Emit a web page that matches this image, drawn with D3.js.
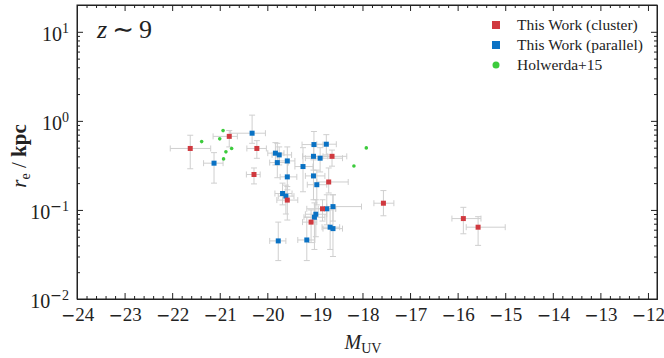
<!DOCTYPE html>
<html>
<head>
<meta charset="utf-8">
<script src="https://cdn.jsdelivr.net/npm/d3@7"></script>
<style>
  body { margin: 0; background: #fff; }
  text { font-family: "Liberation Serif", "DejaVu Serif", serif; fill: #222; }
</style>
</head>
<body>
<div id="vis"></div>
<script>
// data: [M_UV, M_lo, M_hi, r_e, r_lo, r_hi]
let clusterPts = [
    [-21.62, -22.04, -21.19, 0.49, 0.29, 0.69],
    [-20.80, -21.14, -20.63, 0.67, 0.51, 0.78],
    [-20.22, -20.43, -20.02, 0.49, 0.38, 0.60],
    [-20.28, -20.44, -20.15, 0.25, 0.196, 0.296],
    [-18.64, -18.83, -18.33, 0.40, 0.31, 0.47],
    [-18.71, -18.96, -18.30, 0.206, 0.155, 0.296],
    [-19.58, -19.80, -19.36, 0.129, 0.077, 0.183],
    [-18.84, -19.17, -18.56, 0.103, 0.075, 0.13],
    [-19.08, -19.26, -18.96, 0.073, 0.043, 0.10],
    [-17.56, -17.76, -17.34, 0.119, 0.086, 0.165],
    [-15.88, -16.12, -15.51, 0.080, 0.054, 0.107],
    [-15.57, -15.82, -15.00, 0.064, 0.040, 0.084]
]

let parallelPts = [
    [-20.32, -20.77, -20.04, 0.727, 0.56, 1.16],
    [-21.12, -21.34, -20.93, 0.335, 0.20, 0.44],
    [-19.83, -19.99, -19.65, 0.434, 0.32, 0.57],
    [-19.75, -19.90, -19.49, 0.415, 0.32, 0.51],
    [-19.79, -19.95, -19.56, 0.34, 0.23, 0.56],
    [-19.58, -19.75, -19.42, 0.355, 0.237, 0.51],
    [-19.02, -19.27, -18.83, 0.542, 0.40, 0.76],
    [-18.76, -18.96, -18.55, 0.547, 0.415, 0.70],
    [-19.03, -19.26, -18.73, 0.40, 0.28, 0.537],
    [-18.89, -19.20, -18.42, 0.381, 0.267, 0.50],
    [-19.25, -19.42, -19.04, 0.307, 0.16, 0.50],
    [-19.03, -19.20, -18.79, 0.241, 0.13, 0.365],
    [-19.58, -19.73, -19.38, 0.235, 0.168, 0.337],
    [-18.96, -19.16, -18.75, 0.192, 0.114, 0.28],
    [-19.68, -19.84, -19.48, 0.153, 0.114, 0.20],
    [-19.61, -19.77, -19.44, 0.143, 0.09, 0.19],
    [-18.75, -18.93, -18.57, 0.103, 0.068, 0.148],
    [-18.62, -18.75, -18.02, 0.109, 0.075, 0.148],
    [-18.98, -19.20, -18.75, 0.0895, 0.05, 0.13],
    [-19.01, -19.23, -18.79, 0.0828, 0.036, 0.12],
    [-18.68, -18.85, -18.48, 0.064, 0.036, 0.10],
    [-18.62, -18.83, -18.42, 0.0617, 0.030, 0.148],
    [-19.77, -19.95, -19.61, 0.0449, 0.027, 0.073],
    [-19.17, -19.36, -19.00, 0.046, 0.027, 0.083]
]

// Holwerda+15: [M_UV, r_e]
let holwerdaPts = [
    [-20.93, 0.778], [-21.38, 0.585], [-21.00, 0.628], [-20.75, 0.489],
    [-20.87, 0.449], [-20.92, 0.374], [-17.92, 0.497], [-18.18, 0.312]
]

let xTicks = d3.range(-24, -11, 1)
let yTicks = [0.01, 0.1, 1, 10]
let legendLabels = ["This Work (cluster)", "This Work (parallel)", "Holwerda+15"]

let red = "#d0393f"
let blue = "#0a72c4"
let green = "#3ccb3c"
let errColor = "#cfcfcf"

let svgWidth = 664
let svgHeight = 358
let margin = {left: 77, right: 7, top: 5, bottom: 59}
let width = svgWidth - margin.left - margin.right
let height = svgHeight - margin.top - margin.bottom

let svg = d3.select('#vis')
    .append('svg')
    .attr('width', svgWidth)
    .attr('height', svgHeight)
    .append('g')
    .attr('transform', `translate(${margin.left},${margin.top})`)

// scales
let xScale = d3.scaleLinear().domain([-24, -11.81]).range([0, width])
let yScale = d3.scaleLog().domain([0.01, 20]).range([height, 0])

// minor ticks
let xMinor = d3.range(0, 61).filter(i => i % 5 !== 0).map(i => -24 + i * 0.2)
let yMinor = []
;[-2, -1, 0, 1].forEach(e => {
    for (let k = 2; k <= 9; k++) {
        let v = k * Math.pow(10, e)
        if (v <= 20) yMinor.push(v)
    }
})

// write a number with a wide minus sign, like the TeX one
function writeNum(sel, n, minusSize) {
    if (n < 0) {
        let m = sel.append('tspan').attr('font-family', 'DejaVu Sans').text('\u2212')
        if (minusSize) m.attr('font-size', minusSize)
    }
    sel.append('tspan').text(Math.abs(n))
}

// bottom axis with labels
let xAxis = svg.append('g')
    .attr('transform', `translate(0,${height})`)
    .call(d3.axisBottom(xScale).tickValues(xTicks).tickSize(-6).tickSizeOuter(0).tickPadding(7).tickFormat(''))
xAxis.selectAll('.tick text').each(function(d) {
    let t = d3.select(this).attr('font-size', '19px').attr('dy', '0.78em')
    writeNum(t, d, '17px')
})

svg.append('g')
    .attr('transform', `translate(0,${height})`)
    .call(d3.axisBottom(xScale).tickValues(xMinor).tickSize(-3).tickSizeOuter(0).tickFormat(''))

svg.append('g')
    .call(d3.axisTop(xScale).tickValues(xTicks).tickSize(-6).tickSizeOuter(0).tickFormat(''))
svg.append('g')
    .call(d3.axisTop(xScale).tickValues(xMinor).tickSize(-3).tickSizeOuter(0).tickFormat(''))

// left axis with 10^n labels
let yAxis = svg.append('g')
    .call(d3.axisLeft(yScale).tickValues(yTicks).tickSize(-6).tickSizeOuter(0).tickPadding(8).tickFormat(''))
yAxis.selectAll('.tick text').each(function(d) {
    let t = d3.select(this).attr('font-size', '20px').attr('dy', '0.42em')
    let ex = Math.round(Math.log10(d))
    t.append('tspan').text('10')
    let sup = t.append('tspan').attr('dy', '-0.55em').attr('font-size', '14px')
    writeNum(sup, ex)
})

svg.append('g')
    .call(d3.axisLeft(yScale).tickValues(yMinor).tickSize(-3).tickSizeOuter(0).tickFormat(''))
svg.append('g')
    .attr('transform', `translate(${width},0)`)
    .call(d3.axisRight(yScale).tickValues(yTicks).tickSize(-6).tickSizeOuter(0).tickFormat(''))
svg.append('g')
    .attr('transform', `translate(${width},0)`)
    .call(d3.axisRight(yScale).tickValues(yMinor).tickSize(-3).tickSizeOuter(0).tickFormat(''))

svg.selectAll('.domain').attr('stroke', '#222')
svg.selectAll('.tick line').attr('stroke', '#222')

// frame
svg.append('rect')
    .attr('width', width).attr('height', height)
    .attr('fill', 'none').attr('stroke', '#222').attr('stroke-width', 1)

// error bars
let errData = clusterPts.concat(parallelPts)
let cap = 3
let errG = svg.append('g').attr('stroke', errColor).attr('stroke-width', 1)

errData.forEach(d => {
    let cx = xScale(d[0]), cy = yScale(d[3])
    let x0 = xScale(d[1]), x1 = xScale(d[2])
    let y0 = yScale(d[4]), y1 = yScale(d[5])
    errG.append('line').attr('x1', x0).attr('x2', x1).attr('y1', cy).attr('y2', cy)
    errG.append('line').attr('x1', cx).attr('x2', cx).attr('y1', y0).attr('y2', y1)
    errG.append('line').attr('x1', x0).attr('x2', x0).attr('y1', cy - cap).attr('y2', cy + cap)
    errG.append('line').attr('x1', x1).attr('x2', x1).attr('y1', cy - cap).attr('y2', cy + cap)
    errG.append('line').attr('x1', cx - cap).attr('x2', cx + cap).attr('y1', y0).attr('y2', y0)
    errG.append('line').attr('x1', cx - cap).attr('x2', cx + cap).attr('y1', y1).attr('y2', y1)
})

// points
let sq = 5
svg.selectAll('circle.holw')
    .data(holwerdaPts)
    .join('circle')
        .attr('class', 'holw')
        .attr('cx', d => xScale(d[0]))
        .attr('cy', d => yScale(d[1]))
        .attr('r', 1.8)
        .attr('fill', green)

svg.selectAll('rect.par')
    .data(parallelPts)
    .join('rect')
        .attr('class', 'par')
        .attr('x', d => xScale(d[0]) - sq / 2)
        .attr('y', d => yScale(d[3]) - sq / 2)
        .attr('width', sq).attr('height', sq)
        .attr('fill', blue)

svg.selectAll('rect.clu')
    .data(clusterPts)
    .join('rect')
        .attr('class', 'clu')
        .attr('x', d => xScale(d[0]) - sq / 2)
        .attr('y', d => yScale(d[3]) - sq / 2)
        .attr('width', sq).attr('height', sq)
        .attr('fill', red)

// legend
let legend = svg.append('g').attr('transform', `translate(${496 - margin.left},${25 - margin.top})`)
let legColors = [red, blue, green]
legendLabels.forEach((lab, i) => {
    let g = legend.append('g').attr('transform', `translate(0,${i * 20})`)
    if (i < 2) {
        g.append('rect').attr('x', -4).attr('y', -4).attr('width', 8).attr('height', 8).attr('fill', legColors[i])
    } else {
        g.append('circle').attr('r', 3.5).attr('fill', legColors[i])
    }
    g.append('text').attr('x', 21).attr('y', 5).attr('font-size', '15.5px').text(lab)
})

// annotation
let zt = svg.append('text')
    .attr('x', 97 - margin.left).attr('y', 38 - margin.top)
    .attr('font-size', '26px')
zt.append('tspan').attr('font-style', 'italic').text('z')
zt.append('tspan').attr('font-family', 'DejaVu Sans').attr('dx', 5).text('\u223C')
zt.append('tspan').attr('dx', 5).text('9')

// axis titles
svg.append('text')
    .attr('x', width / 2 - 4).attr('y', height + 50)
    .attr('text-anchor', 'middle')
    .attr('font-size', '20px')
    .html('<tspan font-style="italic">M</tspan><tspan font-size="14px" dy="4">UV</tspan>')

svg.append('text')
    .attr('transform', `translate(${26 - margin.left},${height / 2 + 4}) rotate(-90)`)
    .attr('text-anchor', 'middle')
    .attr('font-size', '21px')
    .html('<tspan font-style="italic">r</tspan><tspan font-size="14px" dy="4">e</tspan><tspan dy="-4"> / </tspan><tspan font-weight="bold">kpc</tspan>')
</script>
</body>
</html>
